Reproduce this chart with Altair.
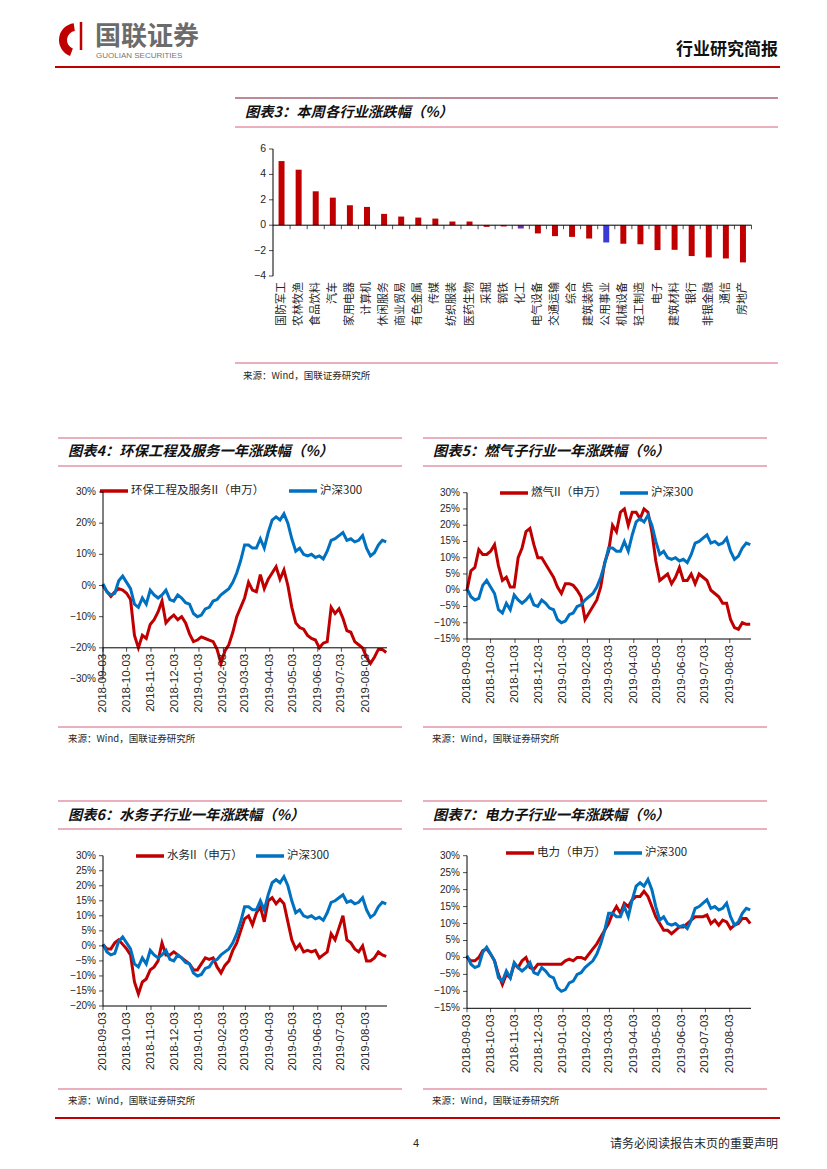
import pandas as pd
import altair as alt

CJK = "Noto Sans CJK SC"
NUMF = "Liberation Sans"
TXT = "#262626"
RED = "#C00000"
BLUE = "#0070C0"
PINK = "#D4607C"
MAROON = "#7A1632"
AXC = "#000000"

# ---------------- chart 3 data ----------------
industries = ["国防军工", "农林牧渔", "食品饮料", "汽车", "家用电器", "计算机", "休闲服务",
              "商业贸易", "有色金属", "传媒", "纺织服装", "医药生物", "采掘", "钢铁", "化工",
              "电气设备", "交通运输", "综合", "建筑装饰", "公用事业", "机械设备", "轻工制造",
              "电子", "建筑材料", "银行", "非银金融", "通信", "房地产"]
weekly_change = [5.05, 4.37, 2.67, 2.17, 1.57, 1.44, 0.89, 0.68, 0.60, 0.52, 0.29, 0.29,
                 -0.13, -0.10, -0.26, -0.65, -0.86, -0.92, -1.05, -1.36, -1.46, -1.50,
                 -1.96, -1.94, -2.43, -2.54, -2.62, -2.93]
bar_ticks = [-4, -2, 0, 2, 4, 6]

# ---------------- line chart data (every 5 days from 2018-09-03) ----------------
dates = pd.date_range("2018-09-03", periods=73, freq="5D")
HS = "沪深300"
hs300 = [0.5, -2, -3, -2.5, 1.5, 3, 1, -1, -6, -7,
         -4, -6, -1.5, -3, -4, -3, -1.5, -4.5, -5, -3,
         -4, -5.5, -6, -9, -10, -9.5, -7.5, -7, -5, -4.5,
         -3, -2, -1, 1, 4, 8, 13, 13, 12, 12,
         15, 12, 17, 21, 22, 21, 23, 20, 15, 11,
         12, 10, 9.5, 10, 9, 9.5, 8.5, 11, 14.5, 15,
         16, 17, 14.5, 15, 14, 14.5, 16, 12, 9.5, 10.5,
         13, 14.5, 14]
env_eng = [0, -2, -3.5, -2, -1, -1.5, -2.5, -4.5, -16, -20,
           -16, -17, -12.5, -11, -8.5, -5, -12, -10.5, -9.5, -11,
           -10, -12, -15.5, -18, -17.5, -16.5, -17, -17.5, -18, -20.5,
           -25, -21, -19, -15, -10, -7, -4, 1, -1.5, -2,
           3.5, -1, 2, 4, 6, 2, 5, 0, -7, -12,
           -13.5, -14, -16, -17, -17.5, -20, -18.5, -18, -7, -9,
           -7.5, -10.5, -14.5, -15, -18, -19, -20, -23, -25, -23,
           -20.5, -20.5, -21.5]
gas = [0, 6, 7, 12.5, 11, 11, 12, 14, 7.5, 3,
       4, 1, 1, 10, 13, 18, 19, 14, 10, 10,
       8, 6, 4, 1, -1, 2, 2, 1.5, 0, -2,
       -9, -7, -5, -3, 1, 8.5, 12, 20, 18, 24,
       25, 20, 24, 24, 22, 25, 24, 18, 9, 3,
       4, 5, 2, 4, 7, 3, 3, 5, 2, 5,
       4, 3, 0, -1, -2, -4, -4, -9, -11.5, -12,
       -10, -10.5, -10.5]
water = [0.5, -1, -1, 1, 2, 0.5, -1, -3, -12, -16,
         -12, -11, -8, -7, -5, 1, -3, -3, -2, -3,
         -4, -5, -6, -8, -8, -6, -4, -4.5, -4, -7,
         -9, -6.5, -5, -1.5, 1, 5, 9, 10, 7, 11,
         13, 8, 15, 16, 14, 15.5, 14, 8, 2, -1,
         0.5, -2, -1.5, -2, -1.5, -4, -3, -2, 4, 2,
         6, 10, 2, 1, -1, -2, 0, -5, -5, -4,
         -2, -3, -3.5]
power = [0, -1, -1, 0, 2, 2.5, 1, -1, -5, -8,
         -5, -6, -2, -3, -1, 0, -3, -3.5, -2, -2,
         -2, -2, -2, -2, -2, -1, -0.5, -1, 0, 0,
         -0.5, 1, 2.5, 4, 6, 8, 10, 13, 15, 13,
         16, 15, 17, 18, 18, 19.5, 18, 15, 12, 10,
         8, 8, 7, 8, 9, 9, 10, 11, 12, 12,
         12, 12.5, 10, 11, 9.5, 11, 10.5, 8.5, 9.5, 10,
         11.5, 11.5, 10]

tick_dates = pd.to_datetime(["2018-09-03", "2018-10-03", "2018-11-03", "2018-12-03",
                             "2019-01-03", "2019-02-03", "2019-03-03", "2019-04-03",
                             "2019-05-03", "2019-06-03", "2019-07-03", "2019-08-03"])
DT0 = alt.DateTime(year=2018, month=9, date=3)
DT1 = alt.DateTime(year=2019, month=8, date=30)

# whole page is one view; page pixel p maps to view pixel p - 8
VW, VH = 811, 1153
one = pd.DataFrame({"k": [0]})


def P(v):
    return v - 8


def txt(s, x, y, size=9, weight="normal", style="normal", align="left", color=TXT, font=CJK):
    return alt.Chart(one).mark_text(
        font=font, fontSize=size, fontWeight=weight, fontStyle=style, align=align,
        baseline="middle", color=color).encode(
        x=alt.value(P(x)), y=alt.value(P(y)), text=alt.value(s))


def hline(x1, x2, y, color, w=1.0):
    return alt.Chart(one).mark_rule(color=color, strokeWidth=w).encode(
        x=alt.value(P(x1)), x2=alt.value(P(x2)), y=alt.value(P(y)))


def vline(x, y1, y2, color=AXC, w=1.0):
    return alt.Chart(one).mark_rule(color=color, strokeWidth=w).encode(
        x=alt.value(P(x)), y=alt.value(P(y1)), y2=alt.value(P(y2)))


def legend(x_red, y, red_label, x_blue):
    return [hline(x_red, x_red + 28, y, RED, 3.5),
            txt(red_label, x_red + 31, y, size=11.5),
            hline(x_blue, x_blue + 28, y, BLUE, 3.5),
            txt(HS, x_blue + 31, y, size=11.5)]


SRC = "来源：Wind，国联证券研究所"
TITLE = dict(size=14.3, weight="bold", style="italic", color="#111111")
deco_items = [
    alt.Chart(one).mark_arc(innerRadius=9, outerRadius=17, theta=3.5, theta2=6.15, color=RED)
    .encode(x=alt.value(P(76)), y=alt.value(P(40))),
    alt.Chart(one).mark_rule(color=RED, strokeWidth=2.5)
    .encode(x=alt.value(P(81)), y=alt.value(P(22)), y2=alt.value(P(50))),
    txt("国联证券", 95, 37, size=26, weight="bold", color="#6B6B6B"),
    txt("GUOLIAN SECURITIES", 96, 56, size=8, color="#777777", font=NUMF),
    txt("行业研究简报", 778, 50, size=17, weight="bold", align="right", color="#111111"),
    hline(55, 780, 67, RED, 2),
    # chart 3 block
    hline(235, 778, 98, MAROON, 1.2),
    txt("图表3：本周各行业涨跌幅（%）", 245, 113, **TITLE),
    hline(235, 778, 127, PINK, 1),
    hline(235, 778, 363, PINK, 1),
    txt(SRC, 243, 376, size=9.5),
    # chart 4 block
    hline(58, 402, 438, PINK, 1.2),
    txt("图表4：环保工程及服务一年涨跌幅（%）", 68, 452, **TITLE),
    hline(58, 402, 466, PINK, 1),
    hline(58, 402, 727, PINK, 1),
    txt(SRC, 68, 739, size=9.5),
    # chart 5 block
    hline(423, 767, 438, PINK, 1.2),
    txt("图表5：燃气子行业一年涨跌幅（%）", 433, 452, **TITLE),
    hline(423, 767, 466, PINK, 1),
    hline(423, 767, 727, PINK, 1),
    txt(SRC, 432, 739, size=9.5),
    # chart 6 block
    hline(58, 402, 801, PINK, 1.2),
    txt("图表6：水务子行业一年涨跌幅（%）", 68, 816, **TITLE),
    hline(58, 402, 829, PINK, 1),
    hline(58, 402, 1089, PINK, 1),
    txt(SRC, 68, 1101, size=9.5),
    # chart 7 block
    hline(423, 767, 801, PINK, 1.2),
    txt("图表7：电力子行业一年涨跌幅（%）", 433, 816, **TITLE),
    hline(423, 767, 829, PINK, 1),
    hline(423, 767, 1089, PINK, 1),
    txt(SRC, 432, 1101, size=9.5),
    # footer
    hline(55, 780, 1118, RED, 2),
    txt("4", 413, 1144, size=11, font=NUMF),
    txt("请务必阅读报告末页的重要声明", 778, 1144, size=12, align="right"),
]
deco_items += legend(100, 491, "环保工程及服务II（申万）", 289)
deco_items += legend(500, 493, "燃气II（申万）", 620)
deco_items += legend(136, 856, "水务II（申万）", 256)
deco_items += legend(506, 853, "电力（申万）", 614)

# ---------------- chart 3: bars ----------------
X3 = (273, 751.5)     # page x extent of plot
Y3 = (276, 149)       # page y of -4 and 6
zero_y = Y3[0] + (Y3[1] - Y3[0]) * 0.4
step3 = (X3[1] - X3[0]) / len(industries)
bars_df = pd.DataFrame({"name": industries, "chg": weekly_change})
ytick_df3 = pd.DataFrame({"v": bar_ticks})
xscale3 = alt.Scale(paddingInner=0.65, paddingOuter=0.325, range=[P(X3[0]), P(X3[1])])
yscale3 = alt.Scale(domain=[-4, 6], nice=False, range=[P(Y3[0]), P(Y3[1])])
X3enc = alt.X("name:N", sort=industries, scale=xscale3, axis=None)
bar_color = (alt.when(alt.datum.name == "化工").then(alt.value("#70309F"))
             .when(alt.datum.name == "公用事业").then(alt.value("#3A3AD9"))
             .otherwise(alt.value(RED)))
bars = alt.Chart(bars_df).mark_bar().encode(
    x=X3enc, y=alt.Y("chg:Q", scale=yscale3, axis=None), color=bar_color)
zero_line = alt.Chart(ytick_df3).transform_filter(alt.datum.v == 0).mark_rule(
    color=AXC, strokeWidth=1).encode(
    x=alt.value(P(X3[0])), x2=alt.value(P(X3[1])), y=alt.Y("v:Q", scale=yscale3, axis=None))
zero_ticks = alt.Chart(bars_df).mark_tick(
    color=AXC, thickness=1, size=4, orient="vertical", xOffset=step3 / 2, yOffset=2).encode(
    x=X3enc, y=alt.value(P(zero_y)))
cat_labels = alt.Chart(bars_df).mark_text(
    angle=270, align="right", baseline="middle", font=CJK, fontSize=11, color=TXT).encode(
    x=X3enc, y=alt.value(P(Y3[0] + 6)), text="name:N")
y3_line = vline(X3[0], Y3[0], Y3[1])
y3_ticks = alt.Chart(ytick_df3).mark_tick(
    color=AXC, thickness=1, size=4, orient="horizontal", xOffset=-2).encode(
    x=alt.value(P(X3[0])), y=alt.Y("v:Q", scale=yscale3, axis=None))
y3_labels = alt.Chart(ytick_df3).transform_calculate(
    lab="format(datum.v, 'd')").mark_text(
    align="right", baseline="middle", font=NUMF, fontSize=10.5, color=TXT).encode(
    x=alt.value(P(X3[0] - 7)), y=alt.Y("v:Q", scale=yscale3, axis=None), text="lab:N")
chart3 = alt.layer(bars, zero_line, zero_ticks, cat_labels, y3_line, y3_ticks, y3_labels)


# ---------------- line charts ----------------
def line_panel(red_vals, yticks, xr, yr, xaxis_y):
    """xr: page x extent; yr: page y of (ymin, ymax); xaxis_y: page y of the x axis line."""
    xs = alt.Scale(domain=[DT0, DT1], range=[P(xr[0]), P(xr[1])])
    ys = alt.Scale(domain=[yticks[0], yticks[-1]], nice=False, zero=False,
                   range=[P(yr[0]), P(yr[1])])
    red_df = pd.DataFrame({"date": dates, "pct": red_vals})
    hs_df = pd.DataFrame({"date": dates, "pct": hs300})
    yt_df = pd.DataFrame({"v": yticks})
    xt_df = pd.DataFrame({"t": tick_dates})
    red = alt.Chart(red_df).mark_line(color=RED, strokeWidth=3).encode(
        x=alt.X("date:T", scale=xs, axis=None), y=alt.Y("pct:Q", scale=ys, axis=None))
    blue = alt.Chart(hs_df).mark_line(color=BLUE, strokeWidth=3).encode(
        x=alt.X("date:T", scale=xs, axis=None), y=alt.Y("pct:Q", scale=ys, axis=None))
    y_line = vline(xr[0], yr[0], yr[1])
    y_ticks = alt.Chart(yt_df).mark_tick(
        color=AXC, thickness=1, size=4, orient="horizontal", xOffset=-2).encode(
        x=alt.value(P(xr[0])), y=alt.Y("v:Q", scale=ys, axis=None))
    y_labels = alt.Chart(yt_df).transform_calculate(
        lab="format(datum.v, 'd') + '%'").mark_text(
        align="right", baseline="middle", font=NUMF, fontSize=10, color=TXT).encode(
        x=alt.value(P(xr[0] - 7)), y=alt.Y("v:Q", scale=ys, axis=None), text="lab:N")
    x_line = hline(xr[0], xr[1], xaxis_y, AXC, 1)
    x_ticks = alt.Chart(xt_df).mark_tick(
        color=AXC, thickness=1, size=4, orient="vertical", yOffset=2).encode(
        x=alt.X("t:T", scale=xs, axis=None), y=alt.value(P(xaxis_y)))
    x_labels = alt.Chart(xt_df).mark_text(
        angle=270, align="right", baseline="middle", font=NUMF, fontSize=11.5, color=TXT).encode(
        x=alt.X("t:T", scale=xs, axis=None), y=alt.value(P(xaxis_y + 6)),
        text=alt.Text("t:T", format="%Y-%m-%d"))
    return alt.layer(red, blue, y_line, y_ticks, y_labels, x_line, x_ticks, x_labels)


c4 = line_panel(env_eng, [-30, -20, -10, 0, 10, 20, 30], (103, 387), (679, 492), 647.8)
c5 = line_panel(gas, [-15, -10, -5, 0, 5, 10, 15, 20, 25, 30], (467, 751), (639, 492.7), 639)
c6 = line_panel(water, [-20, -15, -10, -5, 0, 5, 10, 15, 20, 25, 30], (103, 387), (1006, 855.7), 1006)
c7 = line_panel(power, [-15, -10, -5, 0, 5, 10, 15, 20, 25, 30], (467, 751), (1008.3, 855.7), 1008.3)

chart = (alt.layer(*deco_items, chart3, c4, c5, c6, c7)
         .resolve_scale(x="independent", y="independent")
         .properties(width=VW, height=VH, padding=0)
         .configure_view(stroke=None))

chart.save("out.html", embed_options={"renderer": "svg", "actions": False})
